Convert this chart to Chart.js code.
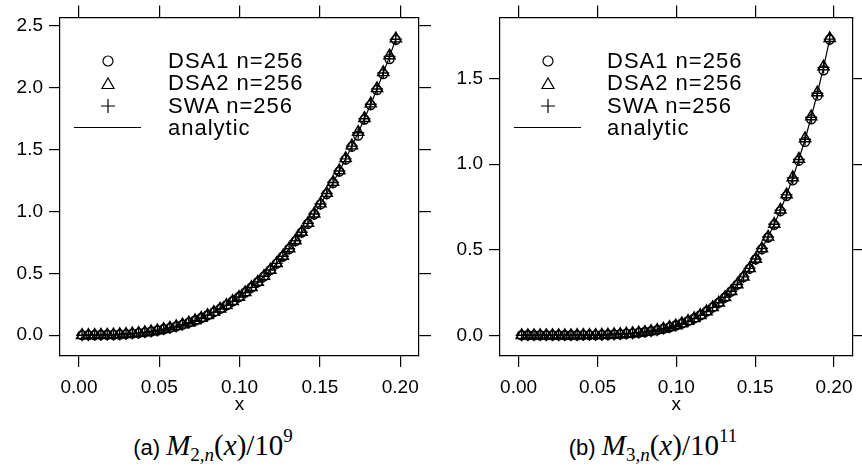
<!DOCTYPE html>
<html><head><meta charset="utf-8">
<script src="https://cdn.jsdelivr.net/npm/chart.js@4.4.0/dist/chart.umd.min.js"></script>
<style>
html,body{margin:0;padding:0;background:#fff;}
body{width:862px;height:468px;position:relative;overflow:hidden;font-family:"Liberation Sans",Arial,sans-serif;color:#000;}
canvas{position:absolute;top:0;}
#c1{left:0;}
#c2{left:440px;}
.lg{position:absolute;font-size:22px;line-height:22px;letter-spacing:1px;white-space:nowrap;}
.cap{position:absolute;top:428px;line-height:34px;height:34px;width:300px;text-align:center;white-space:nowrap;}
.cap .sf{font-family:"Liberation Sans",Arial,sans-serif;font-size:22px;}
.cap .m{font-family:"Liberation Serif","DejaVu Serif",serif;font-size:29px;}
.cap sub{font-size:19px;vertical-align:-6px;line-height:0;}
.cap sup{font-size:19px;vertical-align:13px;line-height:0;}
</style></head><body>
<canvas id="c1" width="432" height="420"></canvas>
<canvas id="c2" width="422" height="420"></canvas>

<div class="lg" style="left:168px;top:50px">DSA1 n=256</div>
<div class="lg" style="left:168px;top:72px">DSA2 n=256</div>
<div class="lg" style="left:168px;top:95px">SWA n=256</div>
<div class="lg" style="left:168px;top:117px">analytic</div>

<div class="lg" style="left:607px;top:50px">DSA1 n=256</div>
<div class="lg" style="left:607px;top:72px">DSA2 n=256</div>
<div class="lg" style="left:607px;top:95px">SWA n=256</div>
<div class="lg" style="left:607px;top:117px">analytic</div>

<div class="cap" style="left:63px"><span class="sf">(a) </span><span class="m"><i>M</i><sub>2,<i>n</i></sub>(<i>x</i>)/10<sup>9</sup></span></div>
<div class="cap" style="left:503px"><span class="sf">(b) </span><span class="m"><i>M</i><sub>3,<i>n</i></sub>(<i>x</i>)/10<sup>11</sup></span></div>

<script>
// ---------- data ----------
const xValues = [0.00195,0.00586,0.00977,0.01367,0.01758,0.02148,0.02539,0.0293,0.0332,0.03711,
  0.04102,0.04492,0.04883,0.05273,0.05664,0.06055,0.06445,0.06836,0.07227,0.07617,
  0.08008,0.08398,0.08789,0.0918,0.0957,0.09961,0.10352,0.10742,0.11133,0.11523,
  0.11914,0.12305,0.12695,0.13086,0.13477,0.13867,0.14258,0.14648,0.15039,0.1543,
  0.1582,0.16211,0.16602,0.16992,0.17383,0.17773,0.18164,0.18555,0.18945,0.19336,0.19727];

const xTickValues = [0, 0.05, 0.10, 0.15, 0.20];
const m2TickValues = [0, 0.5, 1.0, 1.5, 2.0, 2.5];
const m3TickValues = [0, 0.5, 1.0, 1.5];

// panel (a) M2,n(x)/1e9
const m2Analytic = [0,0,0.001,0.002,0.003,0.004,0.006,0.009,0.013,0.017,
  0.023,0.030,0.038,0.048,0.059,0.071,0.085,0.101,0.119,0.139,
  0.161,0.186,0.213,0.242,0.274,0.308,0.345,0.386,0.429,0.476,
  0.526,0.580,0.637,0.698,0.762,0.831,0.903,0.978,1.059,1.144,
  1.233,1.326,1.424,1.527,1.635,1.748,1.865,1.988,2.117,2.251,2.390];
const m2DSA1 = [0,0,0.001,0.002,0.003,0.004,0.006,0.009,0.013,0.017,
  0.023,0.030,0.038,0.048,0.059,0.071,0.085,0.101,0.119,0.139,
  0.161,0.186,0.213,0.242,0.274,0.308,0.345,0.385,0.428,0.475,
  0.525,0.578,0.635,0.696,0.760,0.829,0.900,0.975,1.056,1.140,
  1.229,1.322,1.419,1.522,1.612,1.742,1.858,1.980,2.108,2.230,2.385];
const m2DSA2 = [0,0,0.001,0.002,0.003,0.004,0.006,0.009,0.013,0.017,
  0.023,0.030,0.038,0.048,0.059,0.071,0.085,0.101,0.119,0.139,
  0.161,0.186,0.213,0.242,0.274,0.308,0.346,0.387,0.430,0.477,
  0.527,0.581,0.639,0.700,0.764,0.833,0.905,0.981,1.062,1.147,
  1.236,1.330,1.428,1.531,1.640,1.752,1.870,1.993,2.122,2.258,2.395];
const m2SWA = [0,0,0.001,0.002,0.003,0.004,0.006,0.009,0.013,0.017,
  0.023,0.030,0.038,0.048,0.059,0.071,0.085,0.101,0.119,0.139,
  0.161,0.186,0.213,0.242,0.274,0.308,0.345,0.386,0.429,0.476,
  0.526,0.580,0.637,0.698,0.762,0.831,0.903,0.978,1.059,1.144,
  1.233,1.326,1.424,1.527,1.635,1.748,1.865,1.988,2.117,2.251,2.390];

// panel (b) M3,n(x)/1e11
const m3Analytic = [0,0,0,0,0,0,0,0,0,0.0005,
  0.001,0.001,0.001,0.002,0.003,0.005,0.006,0.009,0.011,0.015,
  0.019,0.024,0.030,0.038,0.047,0.057,0.069,0.083,0.099,0.117,
  0.139,0.163,0.190,0.222,0.257,0.297,0.341,0.391,0.446,0.507,
  0.574,0.649,0.731,0.820,0.919,1.027,1.145,1.274,1.414,1.565,1.730];
const m3DSA1 = [0,0,0,0,0,0,0,0,0,0.0005,
  0.001,0.001,0.001,0.002,0.003,0.005,0.006,0.009,0.011,0.015,
  0.019,0.024,0.030,0.038,0.047,0.057,0.069,0.083,0.099,0.117,
  0.139,0.163,0.190,0.221,0.256,0.296,0.340,0.389,0.444,0.503,
  0.571,0.645,0.725,0.813,0.905,1.020,1.130,1.262,1.400,1.548,1.728];
const m3DSA2 = [0,0,0,0,0,0,0,0,0,0.0005,
  0.001,0.001,0.001,0.002,0.003,0.005,0.006,0.009,0.011,0.015,
  0.019,0.024,0.030,0.038,0.047,0.057,0.069,0.083,0.099,0.117,
  0.139,0.163,0.190,0.222,0.257,0.297,0.341,0.391,0.446,0.507,
  0.575,0.650,0.733,0.822,0.922,1.030,1.150,1.278,1.418,1.570,1.735];
const m3SWA = [0,0,0,0,0,0,0,0,0,0.0005,
  0.001,0.001,0.001,0.002,0.003,0.005,0.006,0.009,0.011,0.015,
  0.019,0.024,0.030,0.038,0.047,0.057,0.069,0.083,0.099,0.117,
  0.139,0.163,0.190,0.222,0.257,0.297,0.341,0.391,0.446,0.507,
  0.574,0.649,0.731,0.820,0.919,1.027,1.145,1.274,1.414,1.565,1.730];

// ---------- chart ----------
const FONT = '"Liberation Sans", Arial, sans-serif';
const pts = ys => xValues.map((x, i) => ({x: x, y: ys[i]}));

const legendSymbols = {
  id: 'legendSymbols',
  afterDraw(chart) {
    const ctx = chart.ctx;
    const cx = 108, rows = [61, 83.5, 106], lineY = 127.5;
    ctx.save();
    ctx.strokeStyle = '#000';
    ctx.lineWidth = 1.2;
    ctx.beginPath(); ctx.arc(cx, rows[0], 5, 0, Math.PI * 2); ctx.stroke();
    const r = 7;
    ctx.beginPath();
    for (let k = 0; k < 3; k++) {
      const a = k * 2 * Math.PI / 3;
      const px = cx + Math.sin(a) * r, py = rows[1] - Math.cos(a) * r + 1.5;
      if (k === 0) ctx.moveTo(px, py); else ctx.lineTo(px, py);
    }
    ctx.closePath(); ctx.stroke();
    ctx.beginPath();
    ctx.moveTo(cx - 7, rows[2]); ctx.lineTo(cx + 7, rows[2]);
    ctx.moveTo(cx, rows[2] - 7); ctx.lineTo(cx, rows[2] + 7);
    ctx.stroke();
    ctx.beginPath(); ctx.moveTo(74, lineY); ctx.lineTo(141, lineY); ctx.stroke();
    ctx.restore();
  }
};

function panel(id, dsa1, dsa2, swa, analytic, yMin, yMax, yTicks, rightWidth) {
  const axisFont = {family: FONT, size: 19};
  const grid = {drawOnChartArea: false, drawTicks: true, tickLength: 11, color: '#000', lineWidth: 1.2};
  const border = {display: true, color: '#000', width: 1.2};
  const setX = s => { s.ticks = xTickValues.map(v => ({value: v})); };
  const setY = s => { s.ticks = yTicks.map(v => ({value: v})); };
  const marker = (label, data, style, radius) => ({
    label, data: pts(data), showLine: false,
    pointStyle: style, pointRadius: radius, pointHoverRadius: radius,
    pointBorderColor: '#000', pointBackgroundColor: 'rgba(0,0,0,0)', pointBorderWidth: 1.4
  });
  return new Chart(document.getElementById(id), {
    type: 'scatter',
    data: {
      datasets: [
        marker('DSA1 n=256', dsa1, 'circle', 4.5),
        marker('DSA2 n=256', dsa2, 'triangle', 6.5),
        marker('SWA n=256', swa, 'cross', 6),
        {label: 'analytic', data: pts(analytic), showLine: true, pointRadius: 0,
         borderColor: '#000', borderWidth: 1.2, fill: false, tension: 0}
      ]
    },
    options: {
      responsive: false, animation: false, devicePixelRatio: 1,
      layout: {padding: 0},
      plugins: {legend: {display: false}, tooltip: {enabled: false}},
      scales: {
        x: {type: 'linear', position: 'bottom', min: -0.0118, max: 0.2117,
            afterBuildTicks: setX, afterFit: s => { s.height = 64; },
            ticks: {font: axisFont, color: '#000', padding: 9, maxRotation: 0, autoSkip: false,
                    callback: v => Number(v).toFixed(2)},
            grid, border,
            title: {display: true, text: 'x', font: axisFont, color: '#000', padding: {top: 0, bottom: 4}}},
        x2: {type: 'linear', position: 'top', min: -0.0118, max: 0.2117,
            afterBuildTicks: setX, afterFit: s => { s.height = 14; },
            ticks: {display: false}, grid: Object.assign({}, grid, {tickLength: 12}), border},
        y: {type: 'linear', position: 'left', min: yMin, max: yMax,
            afterBuildTicks: setY, afterFit: s => { s.width = 60; },
            ticks: {font: axisFont, color: '#000', padding: 6, callback: v => Number(v).toFixed(1)},
            grid, border},
        y2: {type: 'linear', position: 'right', min: yMin, max: yMax,
            afterBuildTicks: setY, afterFit: s => { s.width = rightWidth; },
            ticks: {display: false}, grid: Object.assign({}, grid, {tickLength: 12}), border}
      }
    },
    plugins: [legendSymbols]
  });
}

panel('c1', m2DSA1, m2DSA2, m2SWA, m2Analytic, -0.168, 2.566, m2TickValues, 13);
panel('c2', m3DSA1, m3DSA2, m3SWA, m3Analytic, -0.121, 1.857, m3TickValues, 3);
</script>
</body></html>
